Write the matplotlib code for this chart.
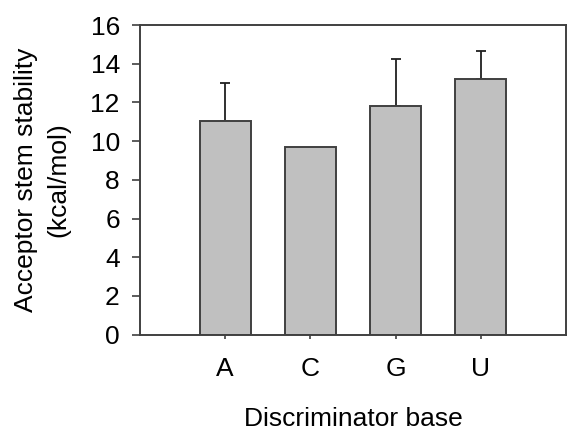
import numpy as np
import matplotlib
matplotlib.use('Agg')
import matplotlib.pyplot as plt

plt.rcParams['font.family'] = ['Liberation Sans', 'DejaVu Sans']

# Data
bases = ['A', 'C', 'G', 'U']
stability = [11.05, 9.7, 11.8, 13.2]
stability_err = [1.95, 0.0, 2.43, 1.48]
y_ticks = [0, 2, 4, 6, 8, 10, 12, 14, 16]

spine_color = '#404040'

fig = plt.figure(figsize=(5.68, 4.32), dpi=100)
ax = fig.add_axes([0.2465, 0.2255, 0.75, 0.7165])

x = np.arange(1, len(bases) + 1)
ax.bar(x, stability, width=0.6, color='#c0c0c0', edgecolor=spine_color,
       linewidth=1.4, zorder=2)

# upper error bars only, skip bars without an error
err_idx = [i for i, e in enumerate(stability_err) if e > 0]
ax.errorbar(x[err_idx], [stability[i] for i in err_idx],
            yerr=[np.zeros(len(err_idx)), [stability_err[i] for i in err_idx]],
            fmt='none', ecolor='#202020', elinewidth=1.3, capsize=3.3,
            capthick=1.3, zorder=1)

ax.set_xlim(0, 5)
ax.set_ylim(0, 16)
ax.set_yticks(y_ticks)
ax.set_xticks(x)
ax.set_xticklabels(bases)

for side in ['left', 'right', 'top', 'bottom']:
    ax.spines[side].set_color(spine_color)
    ax.spines[side].set_linewidth(1.4)

ax.tick_params(axis='y', direction='out', length=6, width=1.2, color=spine_color,
               labelsize=19, pad=8.5)
ax.tick_params(axis='x', direction='out', length=3, width=1.2, color=spine_color,
               labelsize=19, pad=13)

ax.set_ylabel('Acceptor stem stability\n(kcal/mol)', fontsize=19, labelpad=14.5,
              linespacing=1.45)
ax.set_xlabel('Discriminator base', fontsize=19, labelpad=19)

fig.savefig('out.png', dpi=100)
